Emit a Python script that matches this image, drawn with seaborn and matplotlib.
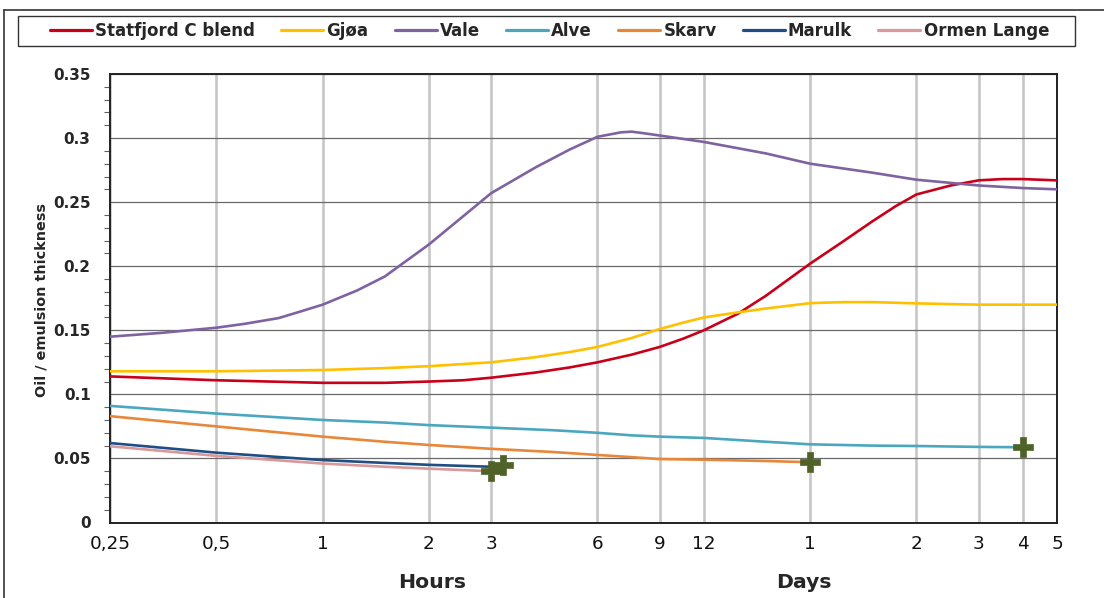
import numpy as np
import pandas as pd
import matplotlib
matplotlib.use("Agg")
import matplotlib.pyplot as plt
import seaborn as sns
from matplotlib.lines import Line2D
from matplotlib.patches import Rectangle
from matplotlib.ticker import MultipleLocator, FuncFormatter, NullLocator, FixedLocator

# ---------------- data (hours after release, thickness) ----------------
oils = ["Statfjord C blend", "Gjøa", "Vale", "Alve", "Skarv", "Marulk", "Ormen Lange"]
colors = ["#C8001A", "#FFC000", "#7F62A0", "#4BA7BF", "#E8873A", "#1F4E85", "#D9989A"]

hours_statfjord = [0.25, 0.5, 1, 1.5, 2, 2.5, 3, 4, 5, 6, 7.5, 9, 10.5, 12, 15, 18, 24,
                   30, 36, 42, 48, 60, 72, 84, 96, 120]
statfjord = [0.114, 0.111, 0.109, 0.109, 0.110, 0.111, 0.113, 0.117, 0.121, 0.125, 0.131,
             0.137, 0.1435, 0.150, 0.163, 0.177, 0.202, 0.220, 0.235, 0.247, 0.256, 0.263,
             0.267, 0.268, 0.268, 0.267]

hours_gjoa = [0.25, 0.5, 1, 1.5, 2, 3, 4, 5, 6, 7.5, 9, 10.5, 12, 15, 18, 24, 30, 36,
              48, 72, 96, 120]
gjoa = [0.118, 0.118, 0.119, 0.1205, 0.122, 0.125, 0.129, 0.133, 0.137, 0.144, 0.151,
        0.156, 0.160, 0.164, 0.167, 0.1712, 0.172, 0.172, 0.171, 0.170, 0.170, 0.170]

hours_vale = [0.25, 0.35, 0.5, 0.6, 0.75, 0.85, 1, 1.25, 1.5, 2, 2.5, 3, 4, 5, 6, 7, 7.5,
              8, 9, 12, 18, 24, 36, 48, 72, 96, 120]
vale = [0.145, 0.148, 0.152, 0.155, 0.1595, 0.164, 0.170, 0.181, 0.192, 0.217, 0.239,
        0.257, 0.277, 0.291, 0.301, 0.3045, 0.305, 0.304, 0.302, 0.297, 0.288, 0.280,
        0.273, 0.2675, 0.263, 0.261, 0.260]

hours_alve = [0.25, 0.5, 1, 1.5, 2, 3, 4.5, 6, 7.5, 9, 12, 18, 24, 36, 48, 72, 96]
alve = [0.091, 0.085, 0.080, 0.078, 0.076, 0.074, 0.072, 0.070, 0.068, 0.067, 0.066,
        0.063, 0.061, 0.060, 0.0597, 0.059, 0.0587]

hours_skarv = [0.25, 0.5, 1, 1.5, 2, 3, 4.5, 6, 7.5, 9, 12, 18, 24]
skarv = [0.083, 0.075, 0.067, 0.063, 0.0605, 0.0575, 0.055, 0.0527, 0.051, 0.0495,
         0.049, 0.048, 0.047]

hours_short = [0.25, 0.5, 1, 1.5, 2, 3]
marulk = [0.062, 0.0545, 0.0487, 0.0465, 0.045, 0.0435]
ormen = [0.0595, 0.052, 0.046, 0.0435, 0.042, 0.040]

# end-of-lifetime markers
end_hours = [3.0, 3.25, 24, 96]
end_vals = [0.040, 0.0445, 0.047, 0.0587]

tick_hours = [0.25, 0.5, 1, 2, 3, 6, 9, 12, 24, 48, 72, 96, 120]
tick_labels = ["0,25", "0,5", "1", "2", "3", "6", "9", "12", "1", "2", "3", "4", "5"]

# ---------------- long table ----------------
series = [
    (oils[0], hours_statfjord, statfjord),
    (oils[1], hours_gjoa, gjoa),
    (oils[2], hours_vale, vale),
    (oils[3], hours_alve, alve),
    (oils[4], hours_skarv, skarv),
    (oils[5], hours_short, marulk),
    (oils[6], hours_short, ormen),
]
df = pd.concat([pd.DataFrame({"hours": h, "thickness": v, "oil": n}) for n, h, v in series],
               ignore_index=True)
ends = pd.DataFrame({"hours": end_hours, "thickness": end_vals})

# ---------------- figure ----------------
sns.set_style("white")
plt.rcParams["font.family"] = ["DejaVu Sans"]

W, H = 1104, 598
fig = plt.figure(figsize=(W / 100, H / 100), dpi=100)
ax = fig.add_axes([110 / W, 1 - 522.5 / H, 947 / W, 448.5 / H])

sns.lineplot(data=df, x="hours", y="thickness", hue="oil", hue_order=oils,
             palette=dict(zip(oils, colors)), linewidth=1.9, legend=False,
             ax=ax, sort=True, estimator=None, zorder=3)
for ln in ax.get_lines():
    ln.set_solid_joinstyle("round")
sns.scatterplot(data=ends, x="hours", y="thickness", marker="P", s=210,
                color="#4F6228", edgecolor="#4F6228", linewidth=0.5, ax=ax, zorder=4,
                legend=False)

ax.set_xscale("log", base=2)
ax.set_xlim(0.25, 120)
ax.set_ylim(0, 0.35)
ax.xaxis.set_major_locator(FixedLocator(tick_hours))
ax.set_xticklabels(tick_labels)
ax.xaxis.set_minor_locator(NullLocator())
ax.yaxis.set_major_locator(MultipleLocator(0.05))
ax.yaxis.set_minor_locator(MultipleLocator(0.01))
ax.yaxis.set_major_formatter(FuncFormatter(lambda v, p: "%g" % round(v, 2)))

ax.tick_params(axis="x", which="both", length=0, pad=9, labelsize=13.2, labelcolor="#111111")
ax.tick_params(axis="y", which="major", direction="out", length=7, width=1.0,
               color="#404040", pad=7, labelsize=11)
ax.tick_params(axis="y", which="minor", direction="out", length=4.5, width=0.8,
               color="#606060", left=True)
for lbl in ax.get_yticklabels():
    lbl.set_fontweight("bold")

ax.set_axisbelow(True)
ax.grid(axis="x", which="major", color="#c6c6c6", linewidth=1.9)
ax.grid(axis="y", which="major", color="#6a6a6a", linewidth=0.9)
for s in ax.spines.values():
    s.set_visible(True)
    s.set_color("#222222")
    s.set_linewidth(1.4)
ax.set_xlabel("")
ax.set_ylabel("")

# axis titles
fig.text(42 / W, 1 - 300 / H, "Oil / emulsion thickness", rotation=90, ha="center",
         va="center", fontsize=10.4, fontweight="bold")
fig.text(432 / W, 1 - 583 / H, "Hours", ha="center", va="center", fontsize=14.7,
         fontweight="bold")
fig.text(804 / W, 1 - 583 / H, "Days", ha="center", va="center", fontsize=14.7,
         fontweight="bold")

# legend
handles = [Line2D([0], [0], color=c, lw=2.3) for c in colors]
fig.legend(handles, oils, loc="center", bbox_to_anchor=(549.5 / W, 1 - 31 / H), ncol=7,
           frameon=False, prop=dict(weight="bold", size=12), handlelength=2.52,
           handletextpad=0.2, columnspacing=1.56, borderpad=0, borderaxespad=0)
fig.add_artist(Rectangle((18 / W, 1 - 46 / H), 1057 / W, 30 / H, transform=fig.transFigure,
                         fill=False, edgecolor="#333333", linewidth=1.0))

# outer chart frame
fig.add_artist(Line2D([3.5 / W, 3.5 / W], [0, 1 - 9.5 / H], transform=fig.transFigure,
                      color="#333333", linewidth=1.2))
fig.add_artist(Line2D([3.5 / W, 1], [1 - 9.5 / H, 1 - 9.5 / H], transform=fig.transFigure,
                      color="#333333", linewidth=1.2))

fig.savefig("out.png", dpi=100, facecolor="white")
